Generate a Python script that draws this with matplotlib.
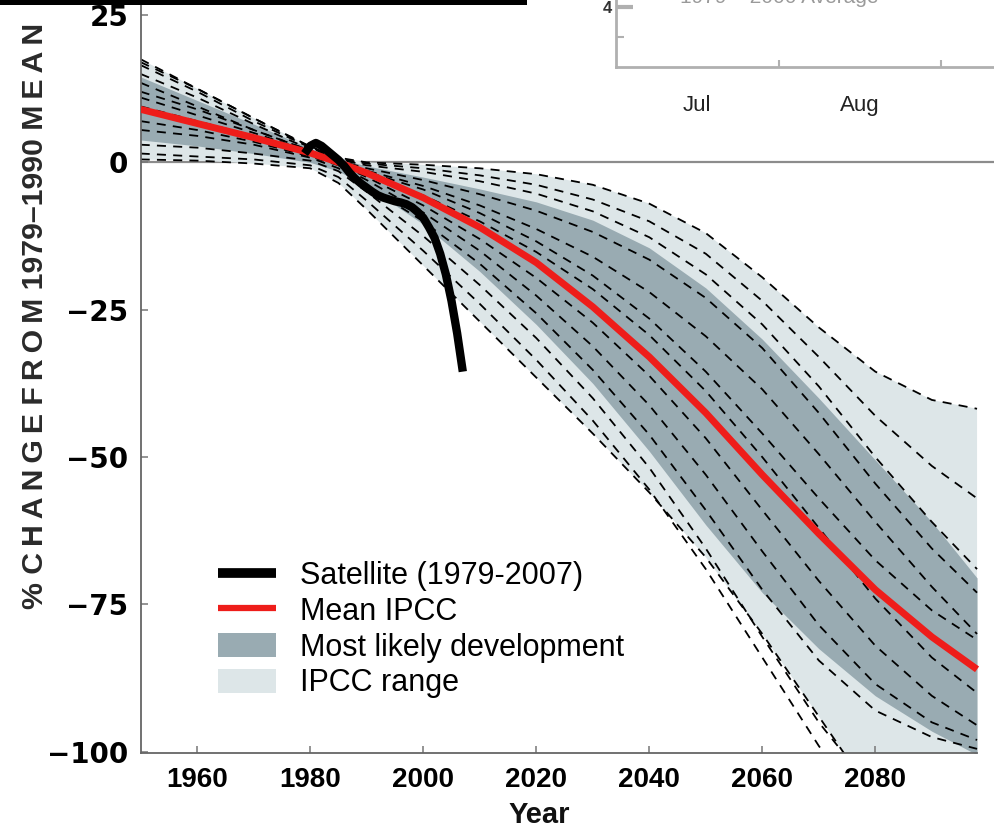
import matplotlib
matplotlib.use("Agg")
import matplotlib.pyplot as plt
from matplotlib.lines import Line2D
from matplotlib.patches import Patch, Rectangle

plt.rcParams["font.family"] = ["Liberation Sans", "DejaVu Sans"]

# ---- data ----
years = [1950, 1960, 1970, 1980, 1985, 1990, 2000, 2010, 2020, 2030,
         2040, 2050, 2060, 2070, 2080, 2090, 2098]

mean_ipcc = [9, 6.6, 4.2, 1.6, 0, -1.8, -6, -11, -17, -24.5,
             -33, -42.5, -53, -63, -72.5, -80.5, -86]

range_top = [17.5, 12.5, 7.5, 2.7, 0.8, 0, -0.4, -1, -2, -3.8,
             -7, -12, -19.5, -28, -35.5, -40.3, -41.8]
range_bot = [0.5, 0.3, -0.2, -1, -3.5, -8, -17.5, -27, -36.5, -46,
             -56, -67, -80, -94, -108, -120, -128]

likely_top = [14.5, 10.5, 6.5, 2.4, 0.6, -0.6, -2.5, -4.5, -6.7, -9.8,
              -14.5, -21.3, -30, -40, -50.5, -61, -70.5]
likely_bot = [3.8, 2.8, 1.5, 0, -1.5, -4, -10.5, -18.5, -27.5, -37.5,
              -49, -61.5, -73, -82.5, -90.5, -96.5, -100.5]

# individual model runs (dashed)
models = [
    range_top,
    range_bot,
    [17, 12.5, 7.5, 2.6, 0.6, -0.2, -1, -2.2, -3.8, -6.3, -10, -15.5, -23.5, -33, -43, -51.5, -57],
    [16.5, 12, 7, 2.5, 0.5, -0.5, -1.6, -3.2, -5.3, -8.3, -12.7, -19, -27.5, -38, -50, -61, -69],
    [15, 11, 6.5, 2.2, 0.3, -1, -3, -5.4, -8.2, -11.8, -16.5, -23, -31.5, -42.5, -54.5, -65.5, -73],
    [13.5, 9.5, 5.5, 2, 0.2, -1.4, -4, -7.3, -11.3, -16, -22, -29.5, -38.5, -49.5, -61, -72, -80],
    [12, 9, 5.5, 2, 0, -1.6, -4.6, -8.6, -13.4, -19.2, -26.5, -35.5, -46, -57, -67.5, -76, -81],
    [11, 8, 5, 1.8, 0, -2, -5.6, -10, -15.2, -21.5, -29.3, -38.8, -50, -62, -74, -84, -90],
    [9.5, 7, 4.5, 1.5, -0.3, -2.5, -7.3, -13, -19.6, -27.2, -36.2, -46.8, -59, -71, -82, -90.5, -95.5],
    [7, 5.5, 3.5, 1, -0.5, -3, -8.5, -15, -22.6, -31.2, -41.2, -53, -66, -78.5, -88.5, -95, -98],
    [5.5, 4.5, 3, 0.8, -1, -4, -10, -17.2, -25.6, -35.2, -46.2, -59, -72.5, -84.5, -93, -97.5, -99.5],
    [3, 2.5, 1.5, 0.3, -1.5, -5, -12.5, -20.8, -29.8, -40, -51.8, -65.5, -80.5, -95, -107, -116, -121],
    [1.5, 1, 0.5, -0.5, -2.5, -6.5, -15, -24, -33.5, -43.8, -55.5, -69, -84, -99, -112, -122, -128],
]

sat_years = list(range(1979, 2008))
sat_vals = [1.5, 2.8, 3.3, 2.8, 2, 1.2, 0.4, -0.6, -1.8, -2.8, -3.6, -4.3, -5, -5.6,
            -6, -6.3, -6.6, -6.8, -7.1, -7.6, -8.4, -9.4, -11, -12.8, -15.5, -19,
            -23.5, -29, -35.5]

xticks = [1960, 1980, 2000, 2020, 2040, 2060, 2080]
yticks = [-100, -75, -50, -25, 0, 25]
legend_labels = ["Satellite (1979-2007)", "Mean IPCC", "Most likely development", "IPCC range"]
ylabel = "% CHANGE FROM 1979–1990 MEAN"
inset_months = ["Jul", "Aug"]

dark = "#99abb2"
light = "#dde6e8"
red = "#ee1d1a"

W, H = 994, 833
fig = plt.figure(figsize=(W / 100, H / 100), dpi=100)

# main axes: left spine at x=140.7 px, bottom at y=753 px
ax = fig.add_axes([140.7 / W, 80 / H, (W - 140.7) / W, 753 / H])
ax.set_xlim(1950, 2101)
ax.set_ylim(-100.2, 27.55)

ax.axhline(0, color="#8c8c8c", lw=1.6, zorder=0.5)
ax.fill_between(years, range_bot, range_top, color=light, lw=0, zorder=1)
ax.fill_between(years, likely_bot, likely_top, color=dark, lw=0, zorder=1.1)
for m in models:
    ax.plot(years, m, color="black", lw=1.3, ls=(0, (5, 4)), zorder=2)
ax.plot(years, mean_ipcc, color=red, lw=5, solid_capstyle="butt", zorder=3)
ax.plot(sat_years, sat_vals, color="black", lw=6, solid_capstyle="butt", zorder=4)

for s in ["top", "right"]:
    ax.spines[s].set_visible(False)
for s in ["left", "bottom"]:
    ax.spines[s].set_color("#666666")
    ax.spines[s].set_linewidth(1.3)
ax.spines["bottom"].set_bounds(1950, 2098)

ax.set_xticks(xticks)
ax.set_yticks(yticks)
ax.tick_params(axis="both", direction="in", color="#777777", width=1.1)
ax.tick_params(axis="x", length=5, pad=10)
ax.tick_params(axis="y", length=5, pad=9)
for t in ax.get_xticklabels():
    t.set_fontweight("bold")
    t.set_fontsize(20)
for t in ax.get_yticklabels():
    t.set_family("DejaVu Sans")
    t.set_fontweight("bold")
    t.set_fontsize(20)

fig.text(539 / W, 1 - 815 / H, "Year", ha="center", va="center",
         fontsize=21, fontweight="bold", color="#111111")

spaced = ylabel.replace("CHANGE", "\u2009".join("CHANGE")) \
    .replace("FROM", "\u2009".join("FROM")).replace("MEAN", "\u2009".join("MEAN"))
fig.text(35 / W, 1 - 316 / H, spaced, rotation=90, ha="center", va="center",
         fontsize=21.8, fontweight="bold", color="#2a2a2a")

handles = [
    Line2D([], [], color="black", lw=7, solid_capstyle="butt"),
    Line2D([], [], color=red, lw=4.5, solid_capstyle="butt"),
    Patch(facecolor=dark, edgecolor="none"),
    Patch(facecolor=light, edgecolor="none"),
]
ax.legend(handles, legend_labels, loc="upper left",
          bbox_to_anchor=(218 / W, 1 - 561 / H), bbox_transform=fig.transFigure,
          frameon=False, fontsize=22, borderpad=0, borderaxespad=0,
          handlelength=1.9, handleheight=0.85, handletextpad=0.8, labelspacing=0.19)

# partial inset at top right (cropped in the original)
axin = fig.add_axes([616 / W, (H - 67) / H, (W - 616) / W, 120 / H])
axin.set_xlim(0, 2.326)
axin.set_ylim(3, 5)
axin.patch.set_alpha(0)
for s in ["top", "right"]:
    axin.spines[s].set_visible(False)
for s in ["left", "bottom"]:
    axin.spines[s].set_color("#b0b0b0")
    axin.spines[s].set_linewidth(2)
axin.set_yticks([4])
axin.set_yticklabels(["4"], fontsize=12, fontweight="bold", color="#333333")
axin.set_yticks([3.5], minor=True)
axin.set_xticks([1, 2])
axin.set_xticklabels([])
axin.set_xticks([0.5, 1.5], minor=True)
axin.set_xticklabels(inset_months, minor=True, fontsize=16, color="#222222")
axin.tick_params(axis="y", which="major", direction="in", length=12, width=3,
                 color="#b0b0b0", pad=3)
axin.tick_params(axis="y", which="minor", direction="in", length=6, width=1.5,
                 color="#b0b0b0")
axin.tick_params(axis="x", which="major", direction="in", length=5, width=1.5,
                 color="#b0b0b0")
axin.tick_params(axis="x", which="minor", length=0, pad=20)
fig.text(680 / W, 1 - 3 / H, "1979 – 2000 Average", ha="left", va="baseline",
         fontsize=15, color="#9a9a9a")

# black bar along the top edge (remnant of the cropped panel above)
fig.patches.append(Rectangle((0, 1 - 5 / H), 527 / W, 5 / H, transform=fig.transFigure,
                             facecolor="black", edgecolor="none", zorder=10))

fig.savefig("out.png", dpi=100)
